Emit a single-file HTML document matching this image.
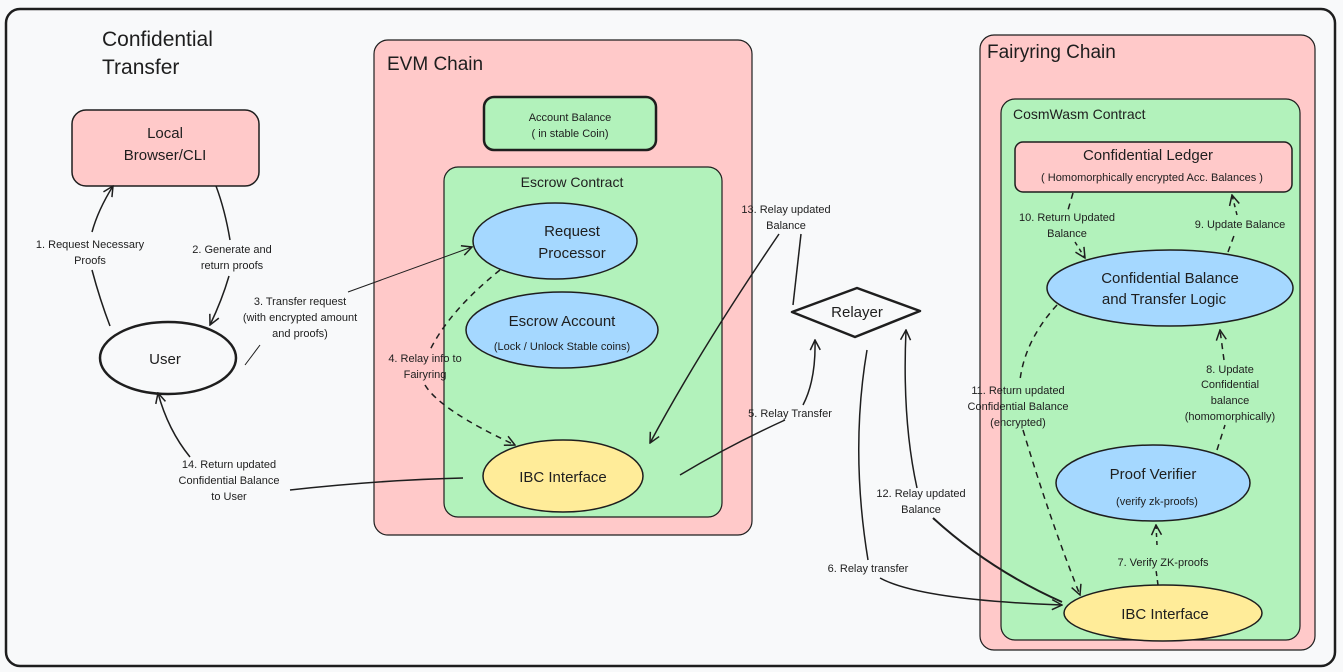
<!DOCTYPE html>
<html><head><meta charset="utf-8">
<style>
html,body{margin:0;padding:0;background:#f8f9fa;}
svg{display:block;}
text{font-family:"Liberation Sans",sans-serif;fill:#1e1e1e;}
.s{font-size:11px;}
</style></head><body>
<svg width="1343" height="672" viewBox="0 0 1343 672" xmlns="http://www.w3.org/2000/svg">
<defs>
<marker id="a" viewBox="0 0 12 12" refX="11" refY="6" markerWidth="12" markerHeight="12" markerUnits="userSpaceOnUse" orient="auto">
<path d="M1,1 L11,6 L1,11" fill="none" stroke="#1e1e1e" stroke-width="1.5"/></marker>
</defs>
<rect x="0" y="0" width="1343" height="672" fill="#f8f9fa"/>
<rect x="6" y="9" width="1329" height="657" rx="14" fill="#f8f9fa" stroke="#1e1e1e" stroke-width="2.5"/>

<text x="102" y="46" font-size="21">Confidential</text>
<text x="102" y="74" font-size="21">Transfer</text>

<!-- Local Browser -->
<rect x="72" y="110" width="187" height="76" rx="14" fill="#ffc9c9" stroke="#1e1e1e" stroke-width="1.5"/>
<text x="165" y="138" font-size="15" text-anchor="middle">Local</text>
<text x="165" y="160" font-size="15" text-anchor="middle">Browser/CLI</text>

<!-- User -->
<ellipse cx="168" cy="358" rx="68" ry="36" fill="#f8f9fa" stroke="#1e1e1e" stroke-width="2.5"/>
<text x="165" y="364" font-size="15" text-anchor="middle">User</text>

<!-- EVM chain -->
<rect x="374" y="40" width="378" height="495" rx="14" fill="#ffc9c9" stroke="#1e1e1e" stroke-width="1.2"/>
<text x="387" y="70" font-size="19">EVM Chain</text>
<rect x="484" y="97" width="172" height="53" rx="10" fill="#b2f2bb" stroke="#1e1e1e" stroke-width="2.5"/>
<text x="570" y="121" font-size="11" text-anchor="middle">Account Balance</text>
<text x="570" y="137" font-size="11" text-anchor="middle">( in stable Coin)</text>
<rect x="444" y="167" width="278" height="350" rx="14" fill="#b2f2bb" stroke="#1e1e1e" stroke-width="1.2"/>
<text x="572" y="187" font-size="14" text-anchor="middle">Escrow Contract</text>
<ellipse cx="555" cy="241" rx="82" ry="38" fill="#a5d8ff" stroke="#1e1e1e" stroke-width="1.5"/>
<text x="572" y="236" font-size="15" text-anchor="middle">Request</text>
<text x="572" y="258" font-size="15" text-anchor="middle">Processor</text>
<ellipse cx="562" cy="330" rx="96" ry="38" fill="#a5d8ff" stroke="#1e1e1e" stroke-width="1.5"/>
<text x="562" y="326" font-size="15" text-anchor="middle">Escrow Account</text>
<text x="562" y="350" font-size="11" text-anchor="middle">(Lock / Unlock Stable coins)</text>
<ellipse cx="563" cy="476" rx="80" ry="36" fill="#ffec99" stroke="#1e1e1e" stroke-width="1.5"/>
<text x="563" y="482" font-size="15" text-anchor="middle">IBC Interface</text>

<!-- Relayer -->
<polygon points="792,312 857,288 920,311 855,337" fill="#f8f9fa" stroke="#1e1e1e" stroke-width="2.5" stroke-linejoin="round"/>
<text x="857" y="317" font-size="15" text-anchor="middle">Relayer</text>

<!-- Fairyring -->
<rect x="980" y="35" width="335" height="615" rx="14" fill="#ffc9c9" stroke="#1e1e1e" stroke-width="1.2"/>
<text x="987" y="58" font-size="19">Fairyring Chain</text>
<rect x="1001" y="99" width="299" height="541" rx="14" fill="#b2f2bb" stroke="#1e1e1e" stroke-width="1.2"/>
<text x="1013" y="119" font-size="14">CosmWasm Contract</text>
<rect x="1015" y="142" width="277" height="50" rx="8" fill="#ffc9c9" stroke="#1e1e1e" stroke-width="1.5"/>
<text x="1148" y="160" font-size="15" text-anchor="middle">Confidential Ledger</text>
<text x="1152" y="181" font-size="11" text-anchor="middle">( Homomorphically encrypted Acc. Balances )</text>
<ellipse cx="1170" cy="288" rx="123" ry="38" fill="#a5d8ff" stroke="#1e1e1e" stroke-width="1.5"/>
<text x="1170" y="283" font-size="15" text-anchor="middle">Confidential Balance</text>
<text x="1164" y="304" font-size="15" text-anchor="middle">and Transfer Logic</text>
<ellipse cx="1153" cy="483" rx="97" ry="38" fill="#a5d8ff" stroke="#1e1e1e" stroke-width="1.5"/>
<text x="1153" y="479" font-size="15" text-anchor="middle">Proof Verifier</text>
<text x="1157" y="505" font-size="11" text-anchor="middle">(verify zk-proofs)</text>
<ellipse cx="1163" cy="613" rx="99" ry="28" fill="#ffec99" stroke="#1e1e1e" stroke-width="1.5"/>
<text x="1165" y="619" font-size="15" text-anchor="middle">IBC Interface</text>

<g fill="none" stroke="#1e1e1e" stroke-width="1.5">
<!-- 1 -->
<path d="M110,326 Q100,300 92,270"/>
<path d="M92,232 Q98,210 113,186" marker-end="url(#a)"/>
<!-- 2 -->
<path d="M216,186 Q225,210 230,240"/>
<path d="M229,276 Q222,300 210,325" marker-end="url(#a)"/>
<!-- 3 -->
<path d="M245,365 L260,345" stroke-width="1"/>
<path d="M348,292 L472,247" stroke-width="1" marker-end="url(#a)"/>
<!-- 4 -->
<path d="M500,270 Q450,310 430,350" stroke-dasharray="6,5"/>
<path d="M425,385 Q440,410 515,445" stroke-dasharray="6,5" marker-end="url(#a)"/>
<!-- 5 -->
<path d="M680,475 Q730,445 785,420"/>
<path d="M803,405 Q816,380 815,340" marker-end="url(#a)"/>
<!-- 13 -->
<path d="M779,234 Q700,350 650,443" marker-end="url(#a)"/>
<path d="M801,234 Q797,270 793,305"/>
<!-- 14 -->
<path d="M290,490 Q380,480 463,478"/>
<path d="M190,457 Q168,430 158,393" marker-end="url(#a)"/>
<!-- 6 -->
<path d="M867,350 Q850,450 868,560"/>
<path d="M880,578 Q920,600 1062,605" marker-end="url(#a)"/>
<!-- 12 -->
<path d="M917,488 Q902,420 906,330" marker-end="url(#a)"/>
<path d="M933,518 Q990,570 1062,602" stroke-width="2"/>
<!-- 11 -->
<path d="M1057,305 Q1025,340 1020,380" stroke-dasharray="6,5"/>
<path d="M1023,430 Q1050,520 1080,595" stroke-dasharray="6,5" marker-end="url(#a)"/>
<!-- 10 -->
<path d="M1073,193 L1068,210" stroke-dasharray="6,5"/>
<path d="M1075,242 L1085,258" stroke-dasharray="4,4" marker-end="url(#a)"/>
<!-- 9 -->
<path d="M1228,252 L1235,233" stroke-dasharray="6,5"/>
<path d="M1237,215 L1232,195" stroke-dasharray="4,4" marker-end="url(#a)"/>
<!-- 8 -->
<path d="M1217,450 L1225,425" stroke-dasharray="6,5"/>
<path d="M1224,360 L1220,330" stroke-dasharray="6,5" marker-end="url(#a)"/>
<!-- 7 -->
<path d="M1158,585 L1156,570" stroke-dasharray="5,4"/>
<path d="M1157,545 L1156,525" stroke-dasharray="4,4" marker-end="url(#a)"/>
</g>

<g class="s" text-anchor="middle">
<text x="90" y="248">1. Request Necessary</text><text x="90" y="264">Proofs</text>
<text x="232" y="253">2. Generate and</text><text x="232" y="269">return proofs</text>
<text x="300" y="305">3. Transfer request</text><text x="300" y="321">(with encrypted amount</text><text x="300" y="337">and proofs)</text>
<text x="425" y="362">4. Relay info to</text><text x="425" y="378">Fairyring</text>
<text x="790" y="417">5. Relay Transfer</text>
<text x="786" y="213">13. Relay updated</text><text x="786" y="229">Balance</text>
<text x="229" y="468">14. Return updated</text><text x="229" y="484">Confidential Balance</text><text x="229" y="500">to User</text>
<text x="868" y="572">6. Relay transfer</text>
<text x="921" y="497">12. Relay updated</text><text x="921" y="513">Balance</text>
<text x="1018" y="394">11. Return updated</text><text x="1018" y="410">Confidential Balance</text><text x="1018" y="426">(encrypted)</text>
<text x="1067" y="221">10. Return Updated</text><text x="1067" y="237">Balance</text>
<text x="1240" y="228">9. Update Balance</text>
<text x="1230" y="373">8. Update</text><text x="1230" y="388">Confidential</text><text x="1230" y="404">balance</text><text x="1230" y="420">(homomorphically)</text>
<text x="1163" y="566">7. Verify ZK-proofs</text>
</g>
</svg>
</body></html>
